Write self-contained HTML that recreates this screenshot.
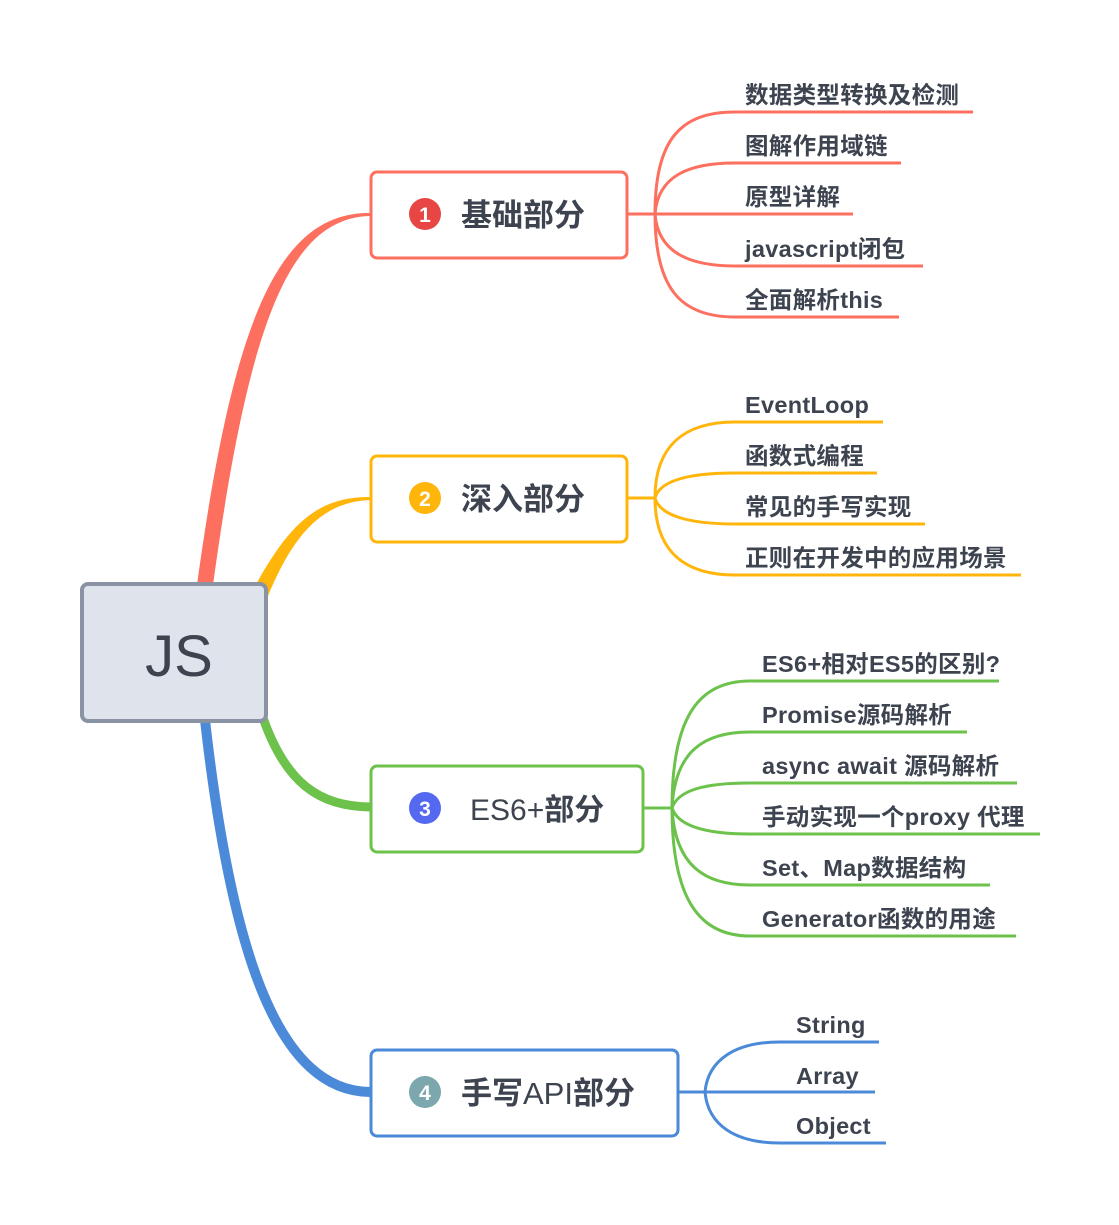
<!DOCTYPE html>
<html><head><meta charset="utf-8"><style>
html,body{margin:0;padding:0;background:#fff;}
svg{display:block;}
text{font-family:"Liberation Sans","Noto Sans CJK SC",sans-serif;}
.l{font-size:23.5px;font-weight:bold;fill:#3d4450;letter-spacing:0.3px;}
.t{font-size:31px;font-weight:bold;fill:#3d4450;}
</style></head><body>
<svg width="1119" height="1225" viewBox="0 0 1119 1225" xmlns="http://www.w3.org/2000/svg">
<path d="M197,585 C232,330 275,212 370,213 L370,216 C287,218 248,330 213,585 Z" fill="#fd6f5e"/>
<path d="M252,592 C290,520 320,497 370,497 L370,500 C325,502 295,530 268,596 Z" fill="#ffb50a"/>
<path d="M261,712 C285,785 320,806 370,807" fill="none" stroke="#6cc24a" stroke-width="9"/>
<path d="M370,805 L370,810 L350,808 Z" fill="#6cc24a"/>
<path d="M205,720 C232,960 280,1091 370,1092" fill="none" stroke="#4a8ad8" stroke-width="10"/>
<rect x="82" y="584" width="184" height="137" rx="6" fill="#dfe3ec" stroke="#8a93a3" stroke-width="4"/>
<text x="179" y="676" text-anchor="middle" style="font-size:58px;fill:#3d4450;">JS</text>

<g fill="none" stroke="#fd6f5e" stroke-width="3">
<rect x="371" y="172" width="256" height="86" rx="6" fill="#fff"/>
<path d="M627,214 H655"/>
<path d="M655,214 C655,140 680,112 735,112 H973"/>
<path d="M655,214 C658,175 690,163 735,163 H901"/>
<path d="M655,214 H853"/>
<path d="M655,214 C658,253 690,266 735,266 H923"/>
<path d="M655,214 C655,288 680,317 735,317 H899"/>
</g>
<circle cx="425" cy="214" r="16" fill="#e84545"/>
<text x="425" y="222" text-anchor="middle" style="font-size:21px;font-weight:bold;fill:#fff;">1</text>
<text x="461" y="226" class="t">基础部分</text>
<text x="745" y="103" class="l">数据类型转换及检测</text>
<text x="745" y="154" class="l">图解作用域链</text>
<text x="745" y="205" class="l">原型详解</text>
<text x="745" y="257" class="l">javascript闭包</text>
<text x="745" y="308" class="l">全面解析this</text>

<g fill="none" stroke="#ffb50a" stroke-width="3">
<rect x="371" y="456" width="256" height="86" rx="6" fill="#fff"/>
<path d="M627,498 H655"/>
<path d="M655,498 C655,445 685,422 735,422 H883"/>
<path d="M655,498 C660,480 690,473 735,473 H877"/>
<path d="M655,498 C660,516 690,524 735,524 H925"/>
<path d="M655,498 C655,552 685,575 735,575 H1021"/>
</g>
<circle cx="425" cy="498" r="16" fill="#ffb50a"/>
<text x="425" y="506" text-anchor="middle" style="font-size:21px;font-weight:bold;fill:#fff;">2</text>
<text x="461" y="510" class="t">深入部分</text>
<text x="745" y="413" class="l">EventLoop</text>
<text x="745" y="464" class="l">函数式编程</text>
<text x="745" y="515" class="l">常见的手写实现</text>
<text x="745" y="566" class="l">正则在开发中的应用场景</text>

<g fill="none" stroke="#6cc24a" stroke-width="3">
<rect x="371" y="766" width="272" height="86" rx="6" fill="#fff"/>
<path d="M643,808 H672"/>
<path d="M672,808 C672,715 700,681 750,681 H999"/>
<path d="M672,808 C675,750 705,732 750,732 H967"/>
<path d="M672,808 C678,790 705,783 750,783 H1017"/>
<path d="M672,808 C678,826 705,834 750,834 H1040"/>
<path d="M672,808 C675,866 705,885 750,885 H990"/>
<path d="M672,808 C672,900 700,936 750,936 H1016"/>
</g>
<circle cx="425" cy="808" r="16" fill="#5468f0"/>
<text x="425" y="816" text-anchor="middle" style="font-size:21px;font-weight:bold;fill:#fff;">3</text>
<text x="470" y="820" style="font-size:30px;fill:#3d4450;">ES6+<tspan font-weight="bold">部分</tspan></text>
<text x="762" y="672" class="l">ES6+相对ES5的区别?</text>
<text x="762" y="723" class="l">Promise源码解析</text>
<text x="762" y="774" class="l">async await 源码解析</text>
<text x="762" y="825" class="l">手动实现一个proxy 代理</text>
<text x="762" y="876" class="l">Set、Map数据结构</text>
<text x="762" y="927" class="l">Generator函数的用途</text>

<g fill="none" stroke="#4a8ad8" stroke-width="3">
<rect x="371" y="1050" width="307" height="86" rx="6" fill="#fff"/>
<path d="M678,1092 H705"/>
<path d="M705,1092 C708,1060 735,1042 780,1042 H879"/>
<path d="M705,1092 H875"/>
<path d="M705,1092 C708,1125 735,1143 780,1143 H886"/>
</g>
<circle cx="425" cy="1092" r="16" fill="#7ba7ad"/>
<text x="425" y="1100" text-anchor="middle" style="font-size:21px;font-weight:bold;fill:#fff;">4</text>
<text x="461" y="1104" class="t">手写<tspan font-weight="normal">API</tspan>部分</text>
<text x="796" y="1033" class="l">String</text>
<text x="796" y="1084" class="l">Array</text>
<text x="796" y="1134" class="l">Object</text>
</svg>
</body></html>
